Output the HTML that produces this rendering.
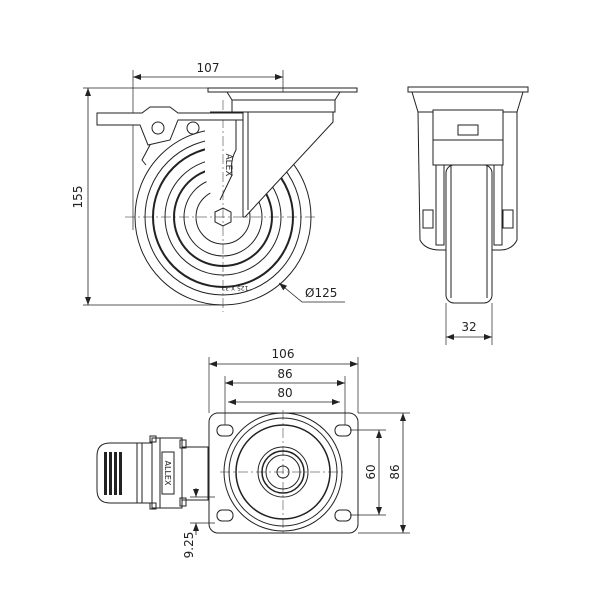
<!DOCTYPE html>
<html><head><style>body{margin:0;background:#fff}svg{display:block}text{font-family:"DejaVu Sans","Liberation Sans",sans-serif;font-size:12px;fill:#222}</style></head>
<body>
<svg width="600" height="600" viewBox="0 0 600 600" xmlns="http://www.w3.org/2000/svg">
<defs><marker id="a" markerWidth="8" markerHeight="6" refX="8" refY="3" orient="auto-start-reverse" markerUnits="userSpaceOnUse"><path d="M0,0L8,3L0,6z" fill="#222"/></marker></defs>
<g fill="none" stroke="#222" stroke-width="1">
<!-- SIDE VIEW -->
<line x1="133" y1="70" x2="133" y2="230" stroke-width="0.7"/>
<line x1="283" y1="70" x2="283" y2="92" stroke-width="0.7"/>
<line x1="133" y1="77" x2="283" y2="77" marker-start="url(#a)" marker-end="url(#a)" stroke-width="0.8"/>
<line x1="83" y1="88" x2="230" y2="88" stroke-width="0.7"/>
<line x1="83" y1="305" x2="223" y2="305" stroke-width="0.7"/>
<line x1="88" y1="88" x2="88" y2="305" marker-start="url(#a)" marker-end="url(#a)" stroke-width="0.8"/>
<path d="M279,283L302,302H345" stroke-width="0.8" marker-start="url(#a)"/>
<!-- plate -->
<rect x="208" y="88" width="149" height="4"/>
<path d="M227,92H340L335,100H232Z"/>
<path d="M232,100H335V112H232Z"/>
<!-- wheel -->
<circle cx="223" cy="217" r="88"/>
<circle cx="223" cy="217" r="78"/>
<circle cx="223" cy="217" r="70" stroke-width="2"/>
<circle cx="223" cy="217" r="58"/>
<circle cx="223" cy="217" r="49" stroke-width="2"/>
<circle cx="223" cy="217" r="39"/>
<circle cx="223" cy="217" r="27"/>
<!-- fork -->
<path d="M205,112H333V122L245,217H232Q210,205 205,175Z" fill="#fff" stroke="none"/>
<path d="M210,112H333V122L245,217H243" fill="none"/>
<path d="M236,112V150Q230,160 232,175L220,200" fill="none"/>
<line x1="243" y1="112" x2="243" y2="217"/>
<line x1="248" y1="112" x2="248" y2="210"/>
<polygon points="215,212 223,208 231,212 231,222 223,226 215,222" fill="#fff"/>
<line x1="223" y1="100" x2="223" y2="312" stroke-width="0.5" stroke-dasharray="10,3,2,3"/>
<line x1="125" y1="217" x2="316" y2="217" stroke-width="0.5" stroke-dasharray="10,3,2,3"/>
<!-- brake -->
<path d="M97,113H142L150,107H170L178,113H243V120H178L170,140L148,145L140,125H97Z" fill="#fff"/>
<circle cx="158" cy="128" r="6"/><circle cx="193" cy="128" r="6"/>
<path d="M150,145L142,160L146,165" />
<!-- FRONT VIEW -->
<rect x="408" y="87" width="120" height="5"/>
<path d="M412,92H523L517,112H418Z"/>
<path d="M418,112H517V240Q512,250 500,250H440Q425,250 420,240Z"/>
<rect x="433" y="110" width="70" height="55" fill="#fff"/>
<rect x="458" y="125" width="20" height="10"/>
<line x1="433" y1="140" x2="503" y2="140"/>
<rect x="446" y="165" width="46" height="138" rx="8" fill="#fff"/>
<line x1="451" y1="165" x2="451" y2="298"/><line x1="487" y1="165" x2="487" y2="298"/>
<rect x="436" y="165" width="8" height="80"/><rect x="494" y="165" width="8" height="80"/>
<rect x="423" y="210" width="10" height="18"/><rect x="503" y="210" width="10" height="18"/>
<line x1="446" y1="303" x2="446" y2="345" stroke-width="0.7"/>
<line x1="492" y1="303" x2="492" y2="345" stroke-width="0.7"/>
<line x1="446" y1="337" x2="492" y2="337" marker-start="url(#a)" marker-end="url(#a)" stroke-width="0.8"/>
<!-- BOTTOM VIEW -->
<line x1="209" y1="357" x2="209" y2="413" stroke-width="0.7"/>
<line x1="358" y1="357" x2="358" y2="413" stroke-width="0.7"/>
<line x1="225" y1="376" x2="225" y2="425" stroke-width="0.7"/>
<line x1="345" y1="376" x2="345" y2="425" stroke-width="0.7"/>
<line x1="209" y1="364" x2="358" y2="364" marker-start="url(#a)" marker-end="url(#a)" stroke-width="0.8"/>
<line x1="225" y1="383" x2="345" y2="383" marker-start="url(#a)" marker-end="url(#a)" stroke-width="0.8"/>
<line x1="228" y1="402" x2="340" y2="402" marker-start="url(#a)" marker-end="url(#a)" stroke-width="0.8"/>
<line x1="358" y1="413" x2="410" y2="413" stroke-width="0.7"/>
<line x1="358" y1="533" x2="410" y2="533" stroke-width="0.7"/>
<line x1="350" y1="430" x2="386" y2="430" stroke-width="0.7"/>
<line x1="350" y1="515" x2="386" y2="515" stroke-width="0.7"/>
<line x1="379" y1="430" x2="379" y2="515" marker-start="url(#a)" marker-end="url(#a)" stroke-width="0.8"/>
<line x1="403" y1="413" x2="403" y2="533" marker-start="url(#a)" marker-end="url(#a)" stroke-width="0.8"/>
<rect x="209" y="413" width="149" height="120" rx="9"/>
<circle cx="283" cy="472" r="59"/><circle cx="283" cy="472" r="54"/>
<circle cx="283" cy="472" r="47" stroke-width="1.5"/><circle cx="283" cy="472" r="25"/>
<circle cx="283" cy="472" r="21" stroke-width="1.5"/><circle cx="283" cy="472" r="17"/><circle cx="283" cy="472" r="6"/>
<line x1="283" y1="410" x2="283" y2="534" stroke-width="0.5" stroke-dasharray="10,3,2,3"/>
<line x1="220" y1="472" x2="346" y2="472" stroke-width="0.5" stroke-dasharray="10,3,2,3"/>
<rect x="217" y="425" width="16" height="11" rx="5"/><rect x="335" y="425" width="16" height="11" rx="5"/>
<rect x="217" y="510" width="16" height="11" rx="5"/><rect x="335" y="510" width="16" height="11" rx="5"/>
<!-- brake bottom -->
<path d="M152,443H110Q97,443 97,456V490Q97,503 110,503H152"/>
<rect x="152" y="438" width="30" height="70" fill="#fff"/>
<rect x="150" y="436" width="6" height="6"/><rect x="150" y="503" width="6" height="6"/>
<line x1="160" y1="438" x2="160" y2="508"/>
<rect x="182" y="447" width="26" height="53"/>
<rect x="180" y="440" width="6" height="8"/><rect x="180" y="498" width="6" height="8"/>
<line x1="137" y1="443" x2="137" y2="503"/><line x1="142" y1="443" x2="142" y2="503"/>
<rect x="162" y="452" width="12" height="42" fill="#fff"/>
<line x1="196" y1="488" x2="196" y2="497" marker-end="url(#a)" stroke-width="0.8"/>
<line x1="196" y1="535" x2="196" y2="523" marker-end="url(#a)" stroke-width="0.8"/>
<line x1="190" y1="497" x2="215" y2="497" stroke-width="0.7"/>
<line x1="190" y1="523" x2="215" y2="523" stroke-width="0.7"/>
</g>
<g fill="#222">
<rect x="104" y="452" width="3" height="43"/><rect x="109" y="452" width="3" height="43"/><rect x="114" y="452" width="3" height="43"/><rect x="119" y="452" width="3" height="43"/>
</g>
<text x="208" y="72" text-anchor="middle">107</text>
<text x="0" y="0" text-anchor="middle" transform="translate(82,197) rotate(-90)">155</text>
<text x="305" y="297">Ø125</text>
<text x="469" y="331" text-anchor="middle">32</text>
<text x="283" y="358" text-anchor="middle">106</text>
<text x="285" y="378" text-anchor="middle">86</text>
<text x="285" y="397" text-anchor="middle">80</text>
<text text-anchor="middle" transform="translate(375,472) rotate(-90)">60</text>
<text text-anchor="middle" transform="translate(399,472) rotate(-90)">86</text>
<text text-anchor="middle" transform="translate(193,545) rotate(-90)">9.25</text>
<text style="font-size:8px" text-anchor="middle" transform="translate(165,473) rotate(90)">ALLEX</text>
<text style="font-size:9px" text-anchor="middle" transform="translate(226,165) rotate(90)">ALEX</text>
<text style="font-size:6px" text-anchor="middle" transform="translate(235,286) rotate(180)">125 X 32</text>
</svg>
</body></html>
